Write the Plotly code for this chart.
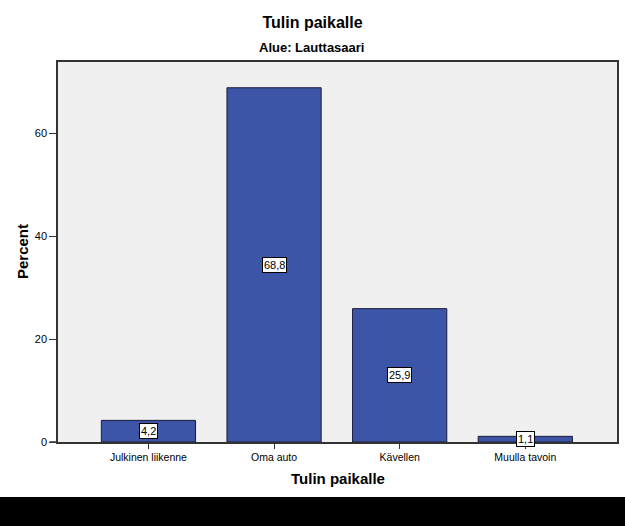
"""
Tulin paikalle – Alue: Lauttasaari (SPSS-style bar chart)
"""

import plotly.graph_objects as go

# ─────────────────────────────────────────────────────────────────────────────
# Data
# ─────────────────────────────────────────────────────────────────────────────
categories = ["Julkinen liikenne", "Oma auto", "Kävellen", "Muulla tavoin"]
percent = [4.2, 68.8, 25.9, 1.1]
value_labels = ["4,2", "68,8", "25,9", "1,1"]
y_ticks = [0, 20, 40, 60]

FONT = "Liberation Sans, Arial, sans-serif"
BAR_COLOR = "#3D55A6"

W, H = 625, 526

fig = go.Figure()

fig.add_trace(go.Bar(
    x=categories, y=percent,
    width=0.75,
    marker=dict(color=BAR_COLOR, line=dict(color="#1B1B3A", width=1)),
    hoverinfo="skip",
))

# value labels in white boxes at half bar height
for cat, val, lab in zip(categories, percent, value_labels):
    fig.add_annotation(
        x=cat, y=val / 2, text=lab, showarrow=False,
        font=dict(family=FONT, size=11, color="black"),
        bgcolor="white", bordercolor="black", borderwidth=1, borderpad=1,
    )

# subtitle (centred on the whole figure, like the main title)
fig.add_annotation(
    text="<b>Alue: Lauttasaari</b>", xref="paper", yref="paper",
    x=0.4537, y=1.037, yanchor="middle", showarrow=False,
    font=dict(family=FONT, size=13, color="black"),
)
# axis titles
fig.add_annotation(
    text="<b>Percent</b>", xref="paper", yref="paper",
    x=0, y=0.5, xshift=-36, textangle=-90, showarrow=False,
    xanchor="center", yanchor="middle",
    font=dict(family=FONT, size=15, color="black"),
)
fig.add_annotation(
    text="<b>Tulin paikalle</b>", xref="paper", yref="paper",
    x=0.5, y=-0.097, yanchor="middle", showarrow=False,
    font=dict(family=FONT, size=15, color="black"),
)

# black band at the bottom of the image
fig.add_shape(
    type="rect", xref="paper", yref="paper",
    x0=-0.2, x1=1.2, y0=-0.145, y1=-0.3,
    fillcolor="black", line=dict(width=0), layer="above",
)
# x axis line extends a bit to the left of the plot (SPSS style)
fig.add_shape(
    type="line", xref="paper", yref="paper",
    x0=-0.015, x1=0, y0=0, y1=0,
    line=dict(color="#333333", width=1.5),
)

fig.update_layout(
    title=dict(text="<b>Tulin paikalle</b>", x=0.5, xanchor="center",
               y=1 - 22 / H, yanchor="middle", yref="container",
               font=dict(family=FONT, size=16, color="black")),
    width=W, height=H,
    margin=dict(l=58, r=6, t=62, b=84),
    paper_bgcolor="white",
    plot_bgcolor="#F0F0F0",
    font=dict(family=FONT, size=11, color="black"),
    showlegend=False,
    bargap=0.25,
    xaxis=dict(
        type="category", range=[-0.72, 3.73],
        showgrid=False, zeroline=False,
        showline=True, linecolor="#333333", linewidth=1.5, mirror=True,
        ticks="outside", ticklen=5, tickcolor="#333333", tickwidth=1,
        tickfont=dict(family=FONT, size=10.5, color="black"),
    ),
    yaxis=dict(
        range=[0, 73.8], tickvals=y_ticks,
        showgrid=False, zeroline=False,
        showline=True, linecolor="#333333", linewidth=1.5, mirror=True,
        ticks="outside", ticklen=7, tickcolor="#333333", tickwidth=1,
        tickfont=dict(family=FONT, size=11, color="black"),
    ),
)

# drop the default page margin so the figure fills the window exactly
fig.write_html("out.html",
               config={"displayModeBar": False},
               post_script="document.body.style.margin='0';"
                           "document.body.style.overflow='hidden';")
